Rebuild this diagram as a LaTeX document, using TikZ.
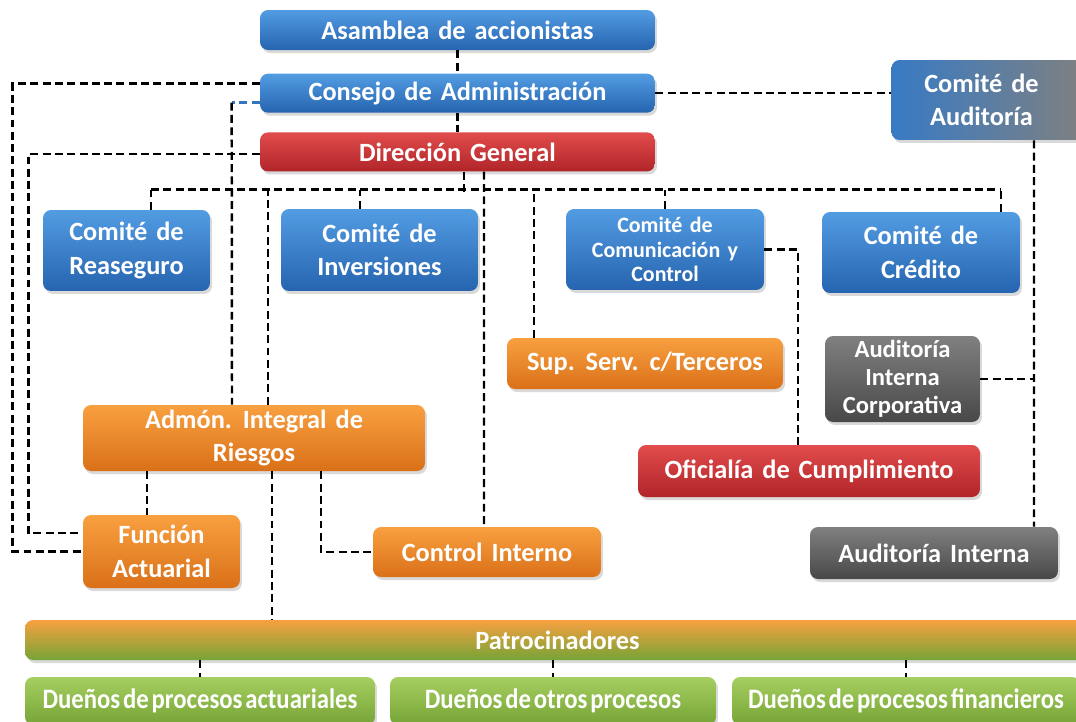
\documentclass[tikz,border=0pt]{standalone}
\usepackage{fontspec}
\setmainfont{Carlito}[WordSpace=1.5]
\newfontfamily\narrowfont{Carlito}[FakeStretch=0.88, WordSpace=0.5]
\usetikzlibrary{positioning,shadows}

\definecolor{azulclaro}{RGB}{82,156,226}
\definecolor{azuloscuro}{RGB}{38,100,176}
\definecolor{rojoclaro}{RGB}{226,76,76}
\definecolor{rojooscuro}{RGB}{176,36,40}
\definecolor{naranjaclaro}{RGB}{248,160,64}
\definecolor{naranjaoscuro}{RGB}{218,112,24}
\definecolor{grisclaro}{RGB}{128,128,128}
\definecolor{grisoscuro}{RGB}{72,72,72}
\definecolor{verdeclaro}{RGB}{166,206,96}
\definecolor{verdeoscuro}{RGB}{118,164,54}

\begin{document}
\begin{tikzpicture}
    [x=0.02cm, y=-0.02cm, font=\bfseries\fontsize{15}{19}\selectfont,
    % STYLES
    % The unit style is used for every box of the chart
    unit/.style={rectangle, rounded corners=0.16cm, text=white, align=center, inner sep=2pt,
      drop shadow={shadow xshift=0.04cm, shadow yshift=-0.06cm, opacity=0.3}},
    % The colour styles give each kind of unit its shading
    blueunit/.style={unit, top color=azulclaro, bottom color=azuloscuro},
    redunit/.style={unit, top color=rojoclaro, bottom color=rojooscuro},
    orangeunit/.style={unit, top color=naranjaclaro, bottom color=naranjaoscuro},
    grayunit/.style={unit, top color=grisclaro, bottom color=grisoscuro},
    greenunit/.style={unit, top color=verdeclaro, bottom color=verdeoscuro, font=\narrowfont\bfseries\fontsize{16}{19}\selectfont},
    % The link style is used to draw the dashed lines between units
    link/.style={dash pattern=on 4.5pt off 2.5pt, line width=1.4pt}]

    \useasboundingbox (0,0) rectangle (1076,721);

    % Draw units
    \node [blueunit, minimum width=7.9cm, minimum height=0.8cm] (asamblea) at (457.5,30) {Asamblea de accionistas};
    \node [blueunit, minimum width=7.9cm, minimum height=0.78cm, below=0.46cm of asamblea] (consejo) {Consejo de Administración};
    \node [redunit, minimum width=7.9cm, minimum height=0.78cm, below=0.38cm of consejo] (direccion) {Dirección General};
    \node [unit, left color=azuloscuro!60!azulclaro, middle color=azuloscuro!35!grisclaro, right color=grisclaro,
      minimum width=3.9cm, minimum height=1.6cm] (cauditoria) at (989,100) {\hspace*{-0.3cm}Comité de\\\hspace*{-0.3cm}Auditoría};

    \node [blueunit, minimum width=3.34cm, minimum height=1.62cm] (reaseguro) at (126.5,250.5) {Comité de\\Reaseguro};
    \node [blueunit, minimum width=3.94cm, minimum height=1.64cm] (inversiones) at (379.5,250) {Comité de\\Inversiones};
    \node [blueunit, minimum width=3.96cm, minimum height=1.62cm, font=\bfseries\fontsize{12.5}{14}\selectfont] (comunicacion) at (665,249.5) {Comité de\\Comunicación y\\Control};
    \node [blueunit, minimum width=3.96cm, minimum height=1.62cm] (credito) at (921,252.5) {Comité de\\Crédito};

    \node [orangeunit, minimum width=5.52cm, minimum height=1.02cm] (supserv) at (645,363.5) {Sup. Serv. c/Terceros};
    \node [grayunit, minimum width=3.1cm, minimum height=1.72cm, font=\bfseries\fontsize{14}{16}\selectfont] (aicorp) at (902.5,379) {Auditoría\\Interna\\Corporativa};
    \node [orangeunit, minimum width=6.84cm, minimum height=1.32cm] (admon) at (254,438) {Admón. Integral de\\Riesgos};
    \node [redunit, minimum width=6.84cm, minimum height=1.04cm] (oficialia) at (809,471) {Oficialía de Cumplimiento};
    \node [orangeunit, minimum width=3.14cm, minimum height=1.46cm] (funcion) at (161.5,551.5) {Función\\Actuarial};
    \node [orangeunit, minimum width=4.56cm, minimum height=1cm] (control) at (487,552) {Control Interno};
    \node [grayunit, minimum width=4.96cm, minimum height=1.04cm] (ainterna) at (934,553) {Auditoría Interna};

    \node [unit, top color=naranjaclaro, middle color=naranjaoscuro!40!verdeclaro, bottom color=verdeoscuro,
      minimum width=21.3cm, minimum height=0.8cm] (patro) at (557.5,640) {Patrocinadores};
    \node [greenunit, minimum width=7cm, minimum height=0.96cm] (actuariales) at (200,701) {Dueños de procesos actuariales};
    \node [greenunit, minimum width=6.52cm, minimum height=0.96cm] (otros) at (553,701) {Dueños de otros procesos};
    \node [greenunit, minimum width=6.96cm, minimum height=0.96cm] (financieros) at (906,701) {Dueños de procesos financieros};

    % Draw the links between units
    \path[link]
    (asamblea) edge (consejo)
    (consejo) edge (direccion)
    (consejo.east) edge (consejo.east -| cauditoria.west)
    ([xshift=0.9cm]cauditoria.south) edge ([xshift=2cm]ainterna.north)
    ([xshift=0.53cm]direccion.south) edge ([xshift=-0.06cm]control.north)
    (patro.south -| actuariales.north) edge (actuariales.north)
    (patro.south -| otros.north) edge (otros.north)
    (patro.south -| financieros.north) edge (financieros.north);

    % the committees hang from one bus under the direction
    \draw[link] ([xshift=0.13cm]direccion.south) -- ++(0,20);
    \draw[link] ([xshift=0.49cm]reaseguro.north) -- ++(0,-20) coordinate (busL);
    \draw[link] ([xshift=1.6cm]credito.north) -- ++(0,-22) coordinate (busR);
    \draw[link] (busL) -- (busR);
    \draw[link] ([xshift=-0.39cm]inversiones.north) -- ++(0,-19);
    \draw[link] (comunicacion.north) -- ++(0,-19);
    \draw[link] ([xshift=-2.22cm]supserv.north) -- ++(0,-148);
    \draw[link] ([xshift=0.28cm]admon.north) -- ++(0,-215);

    % long lines on the left
    \draw[link] ([yshift=0.19cm]consejo.west) -- ++(-247,0) |- (funcion.west);
    \draw[link] ([yshift=-0.04cm]direccion.west) -- ++(-231,0) |- ([yshift=0.37cm]funcion.west);
    \draw[link, azuloscuro!70!azulclaro] ([yshift=-0.19cm]consejo.west) -- ++(-28,0) coordinate (cb);
    \draw[link] (cb) -- ([xshift=-0.44cm]admon.north);

    % risk management and audit
    \draw[link] ([xshift=-2.14cm]admon.south) -- ++(0,44);
    \draw[link] ([xshift=0.36cm]admon.south) -- ++(0,149);
    \draw[link] ([xshift=1.34cm]admon.south) |- (control.west);
    \draw[link] (comunicacion.east) -| ([xshift=-0.22cm]oficialia.north);
    \draw[link] (aicorp.east) -- ++(54,0);
\end{tikzpicture}
\end{document}
